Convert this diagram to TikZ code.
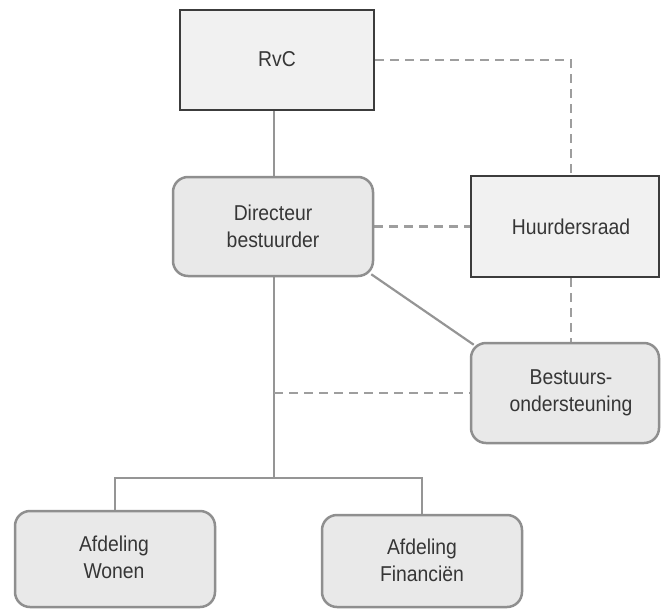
\documentclass[tikz,border=0pt]{standalone}
\usepackage{fontspec}
\setmainfont{Liberation Sans}[FakeStretch=0.9]
\usetikzlibrary{backgrounds,calc}
\definecolor{txt}{HTML}{363636}
\definecolor{sqborder}{HTML}{3C3C3C}
\definecolor{sqfill}{HTML}{F1F1F1}
\definecolor{rdborder}{HTML}{8F8F8F}
\definecolor{rdfill}{HTML}{E9E9E9}
\definecolor{solidline}{HTML}{959595}
\definecolor{dashline}{HTML}{9E9E9E}
\begin{document}
\begin{tikzpicture}[x=1pt,y=-1pt,
  lbl/.style={text=txt, font=\fontsize{21.5}{27}\selectfont, align=center, inner sep=0pt},
  sqbox/.style={draw=sqborder, line width=2.8pt, fill=sqfill, inner sep=0pt},
  rdbox/.style={draw=rdborder, line width=2.5pt, fill=rdfill, rounded corners=15pt, inner sep=0pt},
  solidcon/.style={draw=solidline, line width=2.2pt},
  dashcon/.style={draw=dashline, line width=2.8pt, dash pattern=on 9pt off 6pt}]
\useasboundingbox (0,0) rectangle (661,608);

% boxes
\node[sqbox, minimum width=194pt, minimum height=100pt] (rvc) at (277,60) {};
\node[lbl] (rvct) at (277,59) {RvC};
\node[rdbox, minimum width=200pt, minimum height=99pt] (dir) at (273,226.5) {};
\node[lbl] (dirt) at (273,226.5) {Directeur\\bestuurder};
\node[sqbox, minimum width=188pt, minimum height=101pt] (hr) at (565,226.5) {};
\node[lbl] (hrt) at (571,226.5) {Huurdersraad};
\node[rdbox, minimum width=188pt, minimum height=100pt] (bst) at (565,393) {};
\node[lbl] (bstt) at (571,393) {Bestuurs-\\ondersteuning};
\node[rdbox, minimum width=200pt, minimum height=96pt] (won) at (115,559) {};
\node[lbl] (wont) at (114,557) {Afdeling\\Wonen};
\node[rdbox, minimum width=200pt, minimum height=92pt] (fin) at (422,561) {};
\node[lbl] (fint) at (422,560) {Afdeling\\Financiën};

\coordinate (bar) at (274,478);
\coordinate (tap) at (274,393);

\begin{scope}[on background layer]
  \draw[solidcon] (rvc.south -| 274,0) -- (dir.north -| 274,0);
  \draw[solidcon] (dir.south -| 274,0) -- (bar);
  \draw[solidcon] (won.north) |- (bar) -| (fin.north);
  \draw[solidcon] ($(dir.south east)+(-3,-3)$) -- ($(bst.north west)+(4,3)$);
  \draw[dashcon] (rvc.east) -| (hrt |- hr.north);
  \draw[dashcon] (hrt |- hr.south) -- (bstt |- bst.north);
  \draw[dashcon] (dir.east) -- (hr.west);
  \draw[dashcon] (tap) -- (bst.west);
\end{scope}
\end{tikzpicture}
\end{document}
